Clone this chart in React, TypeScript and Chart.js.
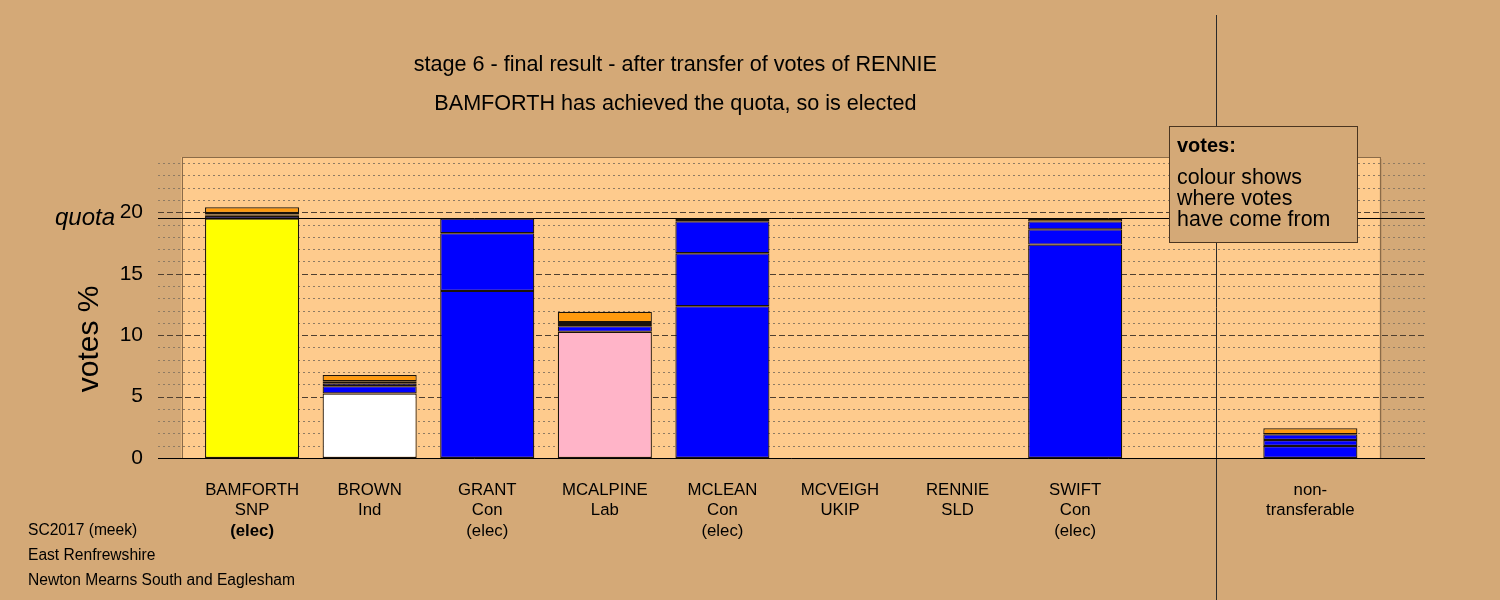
import React, { useEffect, useRef } from "react";
import { Chart, registerables } from "chart.js";
Chart.register(...registerables);

// ---- data ----
const labelLine1 = ["BAMFORTH", "BROWN", "GRANT", "MCALPINE", "MCLEAN", "MCVEIGH", "RENNIE", "SWIFT", "", "non-"];
const labelLine2 = ["SNP", "Ind", "Con", "Lab", "Con", "UKIP", "SLD", "Con", "", "transferable"];
const labelLine3 = ["(elec)", "", "(elec)", "", "(elec)", "", "", "(elec)", "", ""];
const boldStatus = [true, false, false, false, false, false, false, false, false, false];

const firstPrefColors = ["#FFFF00", "#FFFFFF", "#0000FF", "#FFB4C8", "#0000FF", "#8B1A8B", "#FF9A0E", "#0000FF", "#0000FF", "#0000FF"];

// stacked segments (votes %)
const firstPrefs = [19.5, 5.25, 13.6, 10.27, 12.36, 0, 0, 17.37, 0, 0];
const transferStage2 = [0.22, 0.6, 4.7, 0.46, 4.3, 0, 0, 1.24, 0, 0.98];
const transferStage3 = [0.1, 0.2, 1.2, 0.17, 2.61, 0, 0, 0.65, 0, 0.49];
const transferStage4 = [0.12, 0.2, 0, 0.16, 0, 0, 0, 0, 0, 0.46];
const transferRennie = [0.46, 0.5, 0, 0.84, 0.2, 0, 0, 0.2, 0, 0.49];

const quota = 19.5;
const yTicks = [0, 5, 10, 15, 20];
const xTicks = [0, 1, 2, 3, 4, 5, 6, 7, 8, 9];
const yMax = 24.5;
const xMin = -0.8;
const xMax = 9.975;
const panelXMin = -0.6;
const panelXMax = 9.59;
const separatorAt = 8.2;

const titleLines = [
  "stage 6 - final result - after transfer of votes of RENNIE",
  "BAMFORTH has achieved the quota, so is elected",
];
const legendTitle = "votes:";
const legendLines = ["colour shows", "where votes", "have come from"];
const footerLines = ["SC2017 (meek)", "East Renfrewshire", "Newton Mearns South and Eaglesham"];

const FONT = "'Liberation Sans', Arial, Helvetica, sans-serif";
const BG = "#D4A977";
const PANEL = "#FECB8D";
const BLUE = "#0000FF";
const ORANGE = "#FF9A0E";
const BORDER = "#1A120A";

function toPoints(arr: number[]) {
  const pts: { x: number; y: number }[] = [];
  arr.forEach((v, i) => {
    if (v) pts.push({ x: i, y: v });
  });
  return pts;
}

const decorPlugin = {
  id: "decor",
  beforeDraw(chart: any) {
    const { ctx, chartArea, scales } = chart;
    const xs = scales.x;
    const ys = scales.y;
    ctx.save();
    ctx.fillStyle = BG;
    ctx.fillRect(0, 0, chart.width, chart.height);
    const px0 = xs.getPixelForValue(panelXMin);
    const px1 = xs.getPixelForValue(panelXMax);
    const py0 = ys.getPixelForValue(yMax);
    const py1 = ys.getPixelForValue(0);
    ctx.fillStyle = "rgba(120,90,50,0.25)";
    ctx.fillRect(px1, py0 + 2, 2, py1 - py0 - 2);
    ctx.fillStyle = PANEL;
    ctx.fillRect(px0, py0, px1 - px0, py1 - py0);
    ctx.strokeStyle = "#8B6B47";
    ctx.lineWidth = 1;
    ctx.strokeRect(Math.round(px0) + 0.5, Math.round(py0) + 0.5, Math.round(px1 - px0), Math.round(py1 - py0));
    for (let v = 1; v < yMax; v++) {
      const y = Math.round(ys.getPixelForValue(v)) + 0.5;
      ctx.beginPath();
      if (v % 5 === 0) {
        ctx.setLineDash([6, 3]);
        ctx.strokeStyle = "#4F3F2F";
      } else {
        ctx.setLineDash([2, 3]);
        ctx.strokeStyle = "#8F7B63";
      }
      ctx.moveTo(chartArea.left, y);
      ctx.lineTo(chartArea.right, y);
      ctx.stroke();
    }
    ctx.setLineDash([]);
    const qy = Math.round(ys.getPixelForValue(quota)) + 0.5;
    ctx.strokeStyle = "#000";
    ctx.beginPath();
    ctx.moveTo(chartArea.left, qy);
    ctx.lineTo(chartArea.right, qy);
    ctx.stroke();
    const sx = Math.round(xs.getPixelForValue(separatorAt)) + 0.5;
    ctx.strokeStyle = "#2a2a2a";
    ctx.beginPath();
    ctx.moveTo(sx, 15);
    ctx.lineTo(sx, chart.height);
    ctx.stroke();
    ctx.restore();
  },
  afterDatasetsDraw(chart: any) {
    const { ctx, chartArea, scales } = chart;
    const xs = scales.x;
    const ys = scales.y;
    ctx.save();
    const by = Math.round(ys.getPixelForValue(0)) + 0.5;
    ctx.strokeStyle = "#000";
    ctx.lineWidth = 1;
    ctx.beginPath();
    ctx.moveTo(chartArea.left, by);
    ctx.lineTo(chartArea.right, by);
    ctx.stroke();

    ctx.fillStyle = "#000";
    ctx.textBaseline = "middle";
    const tc = (chartArea.left + xs.getPixelForValue(8)) / 2;
    ctx.textAlign = "center";
    ctx.font = `21.6px ${FONT}`;
    ctx.fillText(titleLines[0], tc, 65);
    ctx.fillText(titleLines[1], tc, 104);

    ctx.textAlign = "right";
    ctx.font = `italic 24px ${FONT}`;
    ctx.fillText("quota", 115, ys.getPixelForValue(quota));

    ctx.save();
    ctx.translate(90, ys.getPixelForValue(9.7));
    ctx.rotate(-Math.PI / 2);
    ctx.textAlign = "center";
    ctx.font = `30px ${FONT}`;
    ctx.fillText("votes %", 0, 0);
    ctx.restore();

    ctx.textAlign = "center";
    for (let i = 0; i < labelLine1.length; i++) {
      const x = xs.getPixelForValue(i);
      ctx.font = `16.8px ${FONT}`;
      ctx.fillText(labelLine1[i], x, 490);
      ctx.fillText(labelLine2[i], x, 510.5);
      ctx.font = `${boldStatus[i] ? "bold " : ""}16.8px ${FONT}`;
      ctx.fillText(labelLine3[i], x, 531);
    }

    ctx.fillStyle = BG;
    ctx.fillRect(1169, 126, 188, 116);
    ctx.strokeStyle = "#4A3520";
    ctx.strokeRect(1169.5, 126.5, 188, 116);
    ctx.fillStyle = "#000";
    ctx.textAlign = "left";
    ctx.font = `bold 20px ${FONT}`;
    ctx.fillText(legendTitle, 1177, 146);
    ctx.font = `21.4px ${FONT}`;
    legendLines.forEach((t, i) => ctx.fillText(t, 1177, 178 + i * 21));

    ctx.font = `15.6px ${FONT}`;
    footerLines.forEach((t, i) => ctx.fillText(t, 28, 531 + i * 25));
    ctx.restore();
  },
};

export default function App() {
  const ref = useRef<HTMLCanvasElement | null>(null);
  useEffect(() => {
    if (!ref.current) return;
    const common = {
      borderColor: BORDER,
      borderWidth: 1.2,
      borderSkipped: false,
      barPercentage: 0.8,
      categoryPercentage: 1,
      inflateAmount: 0,
    };
    const chart = new Chart(ref.current, {
      type: "bar",
      data: {
        datasets: [
          {
            ...common,
            label: "first preferences",
            data: toPoints(firstPrefs),
            backgroundColor: toPoints(firstPrefs).map((p) => firstPrefColors[p.x]),
          },
          { ...common, label: "stage 2", data: toPoints(transferStage2), backgroundColor: BLUE },
          { ...common, label: "stage 3", data: toPoints(transferStage3), backgroundColor: BLUE },
          { ...common, label: "stage 4", data: toPoints(transferStage4), backgroundColor: BLUE },
          { ...common, label: "RENNIE", data: toPoints(transferRennie), backgroundColor: ORANGE },
        ] as any,
      },
      options: {
        responsive: false,
        animation: false,
        devicePixelRatio: 1,
        layout: { padding: { top: 157, right: 75, left: 0, bottom: 0 } },
        plugins: { legend: { display: false }, tooltip: { enabled: false }, title: { display: false } },
        scales: {
          x: {
            type: "linear",
            stacked: true,
            offset: false,
            min: xMin,
            max: xMax,
            grid: { display: false, drawTicks: false },
            border: { display: false },
            afterBuildTicks: (s: any) => {
              s.ticks = xTicks.map((v) => ({ value: v }));
            },
            ticks: { display: false },
            afterFit: (s: any) => {
              s.height = 142;
            },
          },
          y: {
            type: "linear",
            stacked: true,
            min: 0,
            max: yMax,
            grid: { display: false, drawTicks: false },
            border: { display: false },
            afterBuildTicks: (s: any) => {
              s.ticks = yTicks.map((v) => ({ value: v }));
            },
            ticks: {
              padding: 15,
              color: "#000",
              font: { size: 21, family: FONT },
            },
            afterFit: (s: any) => {
              s.width = 158;
            },
          },
        },
      } as any,
      plugins: [decorPlugin],
    });
    return () => chart.destroy();
  }, []);
  return (
    <div style={{ position: "fixed", left: 0, top: 0, width: 1500, height: 600 }}>
      <canvas ref={ref} width={1500} height={600} />
    </div>
  );
}
